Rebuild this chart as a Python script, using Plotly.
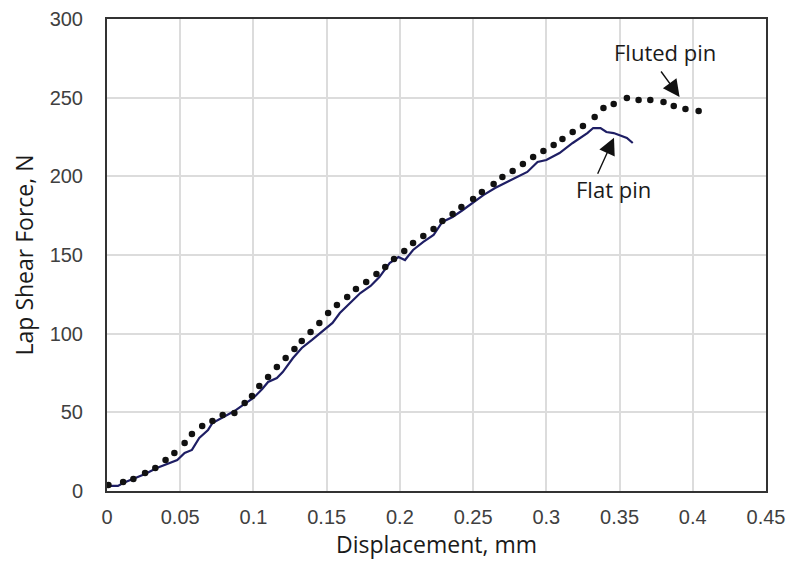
import plotly.graph_objects as go

# Fluted pin (dotted series)
fluted_x = [0.001, 0.011, 0.018, 0.026, 0.033, 0.040, 0.046, 0.053, 0.058, 0.065,
            0.072, 0.079, 0.087, 0.094, 0.099, 0.104, 0.110, 0.116, 0.122, 0.128,
            0.133, 0.139, 0.145, 0.151, 0.157, 0.164, 0.170, 0.177, 0.184, 0.190,
            0.196, 0.203, 0.209, 0.216, 0.223, 0.229, 0.236, 0.242, 0.250, 0.256,
            0.264, 0.270, 0.277, 0.284, 0.291, 0.298, 0.305, 0.311, 0.318, 0.325,
            0.333, 0.339, 0.346, 0.355, 0.363, 0.371, 0.380, 0.387, 0.395, 0.404]
fluted_y = [3.8, 5.7, 7.6, 11.4, 14.6, 19.7, 24.2, 30.5, 36.2, 41.3,
            44.5, 48.3, 49.6, 55.9, 60.4, 66.7, 72.5, 78.8, 84.5, 90.3,
            95.3, 101.1, 106.8, 113.1, 118.2, 123.3, 128.4, 132.8, 137.9, 142.4,
            147.5, 152.5, 157.6, 162.1, 166.5, 171.6, 176.1, 180.5, 185.6, 190.0,
            195.1, 199.6, 203.4, 207.8, 212.3, 216.1, 219.9, 223.7, 228.2, 232.0,
            237.7, 243.4, 246.0, 249.8, 248.5, 248.5, 247.2, 244.7, 242.8, 241.5]

# Flat pin (solid line)
flat_x = [0.001, 0.0075, 0.011, 0.018, 0.026, 0.034, 0.041, 0.048, 0.053, 0.058,
          0.063, 0.069, 0.072, 0.079, 0.084, 0.087, 0.093, 0.100, 0.106, 0.110,
          0.116, 0.120, 0.127, 0.133, 0.140, 0.147, 0.154, 0.159, 0.166, 0.173,
          0.180, 0.186, 0.193, 0.199, 0.2035, 0.209, 0.216, 0.223, 0.229, 0.236,
          0.243, 0.250, 0.257, 0.265, 0.273, 0.280, 0.287, 0.294, 0.300, 0.309,
          0.318, 0.328, 0.332, 0.337, 0.341, 0.346, 0.350, 0.355, 0.359]
flat_y = [3.2, 3.2, 5.1, 7.6, 10.8, 14.6, 17.2, 19.7, 24.2, 26.1,
          33.7, 38.8, 43.2, 47.0, 49.6, 50.8, 54.7, 59.1, 64.8, 69.3,
          71.8, 75.6, 84.5, 90.9, 96.0, 101.1, 106.8, 113.1, 119.5, 125.8,
          130.3, 136.0, 144.9, 148.7, 146.8, 153.2, 158.3, 162.7, 171.0, 174.2,
          178.6, 183.1, 188.1, 192.6, 196.4, 199.6, 202.8, 209.1, 210.4, 214.8,
          221.2, 227.5, 230.7, 230.7, 228.2, 227.5, 226.3, 224.4, 221.2]

x_ticks = [0, 0.05, 0.1, 0.15, 0.2, 0.25, 0.3, 0.35, 0.4, 0.45]
x_tick_labels = ["0", "0.05", "0.1", "0.15", "0.2", "0.25", "0.3", "0.35", "0.4", "0.45"]
y_ticks = [0, 50, 100, 150, 200, 250, 300]

fig = go.Figure()
fig.add_trace(go.Scatter(x=flat_x, y=flat_y, mode="lines", name="Flat pin",
                         line=dict(color="#1e1e64", width=2.2)))
fig.add_trace(go.Scatter(x=fluted_x, y=fluted_y, mode="markers", name="Fluted pin",
                         marker=dict(color="#111111", size=6.5)))

tick_font = dict(family="Liberation Sans, Arial", size=20, color="#404040")
title_font = dict(family="Open Sans", size=23, color="#1a1a1a")
annot_font = dict(family="Open Sans", size=22, color="#1a1a1a")

fig.update_layout(
    width=788, height=563,
    margin=dict(l=107, r=22, t=19, b=72),
    paper_bgcolor="white", plot_bgcolor="white",
    showlegend=False,
    xaxis=dict(range=[0, 0.45], tickvals=x_ticks, ticktext=x_tick_labels,
               automargin=False,
               showgrid=True, gridcolor="#dcdcdc", gridwidth=1.5,
               showline=True, linecolor="#333333", linewidth=2, mirror=True,
               zeroline=False, ticks="", tickfont=tick_font, ticklabelstandoff=7,
               title=dict(text="Displacement, mm", font=title_font, standoff=4)),
    yaxis=dict(range=[0, 300], tickvals=y_ticks,
               automargin=False,
               showgrid=True, gridcolor="#dcdcdc", gridwidth=1.5,
               showline=True, linecolor="#333333", linewidth=2, mirror=True,
               zeroline=False, ticks="", tickfont=tick_font, ticklabelstandoff=18,
               title=dict(text="Lap Shear Force, N", font=title_font, standoff=10)),
    annotations=[
        dict(x=0.381, y=279, xref="x", yref="y", text="Fluted pin", showarrow=False,
             font=annot_font),
        dict(x=0.391, y=250.5, ax=0.3776, ay=267.6, xref="x", yref="y",
             axref="x", ayref="y", text="", showarrow=True, arrowhead=2,
             arrowsize=2.4, arrowwidth=1.4, arrowcolor="#111111"),
        dict(x=0.346, y=192, xref="x", yref="y", text="Flat pin", showarrow=False,
             font=annot_font),
        dict(x=0.3462, y=224.5, ax=0.3346, ay=200.7, xref="x", yref="y",
             axref="x", ayref="y", text="", showarrow=True, arrowhead=2,
             arrowsize=2.4, arrowwidth=1.4, arrowcolor="#111111"),
    ],
)

fig.write_html("out.html")
